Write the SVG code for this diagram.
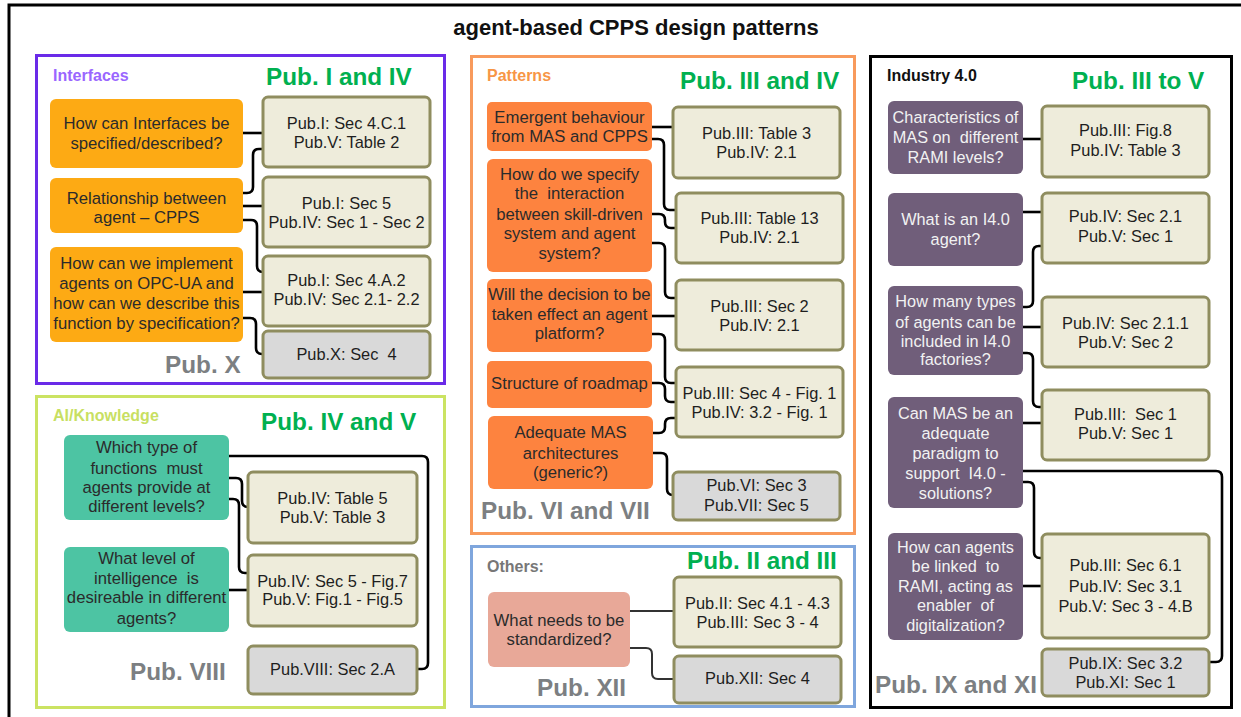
<svg xmlns="http://www.w3.org/2000/svg" width="1241" height="717" viewBox="0 0 1241 717">
  <style>
    text { font-family: "Liberation Sans", Arial, sans-serif; white-space: pre; }
    .title { font-size: 22px; font-weight: bold; fill: #111; }
    .cat { font-size: 16px; font-weight: bold; }
    .pubg { font-size: 24.3px; font-weight: bold; fill: #00b050; }
    .pubx { font-size: 24.3px; font-weight: bold; fill: #7c7f82; }
    .q { font-size: 16.7px; fill: #2b2b2b; text-anchor: middle; }
    .qw { font-size: 16.3px; fill: #f2f2f2; text-anchor: middle; }
    .r { font-size: 16.4px; fill: #1e1e1e; text-anchor: middle; }
    .ref { fill: #eeecdb; stroke: #8f8d5f; stroke-width: 3; }
    .refx { fill: #d9d9d9; stroke: #8f8d5f; stroke-width: 3; }
    .panel { fill: none; stroke-width: 3; }
    .conn path { fill: none; stroke: #000; stroke-width: 2.6; }
    .conn path.thin { stroke: #333; stroke-width: 2; }
  </style>

  <rect width="1241" height="717" fill="#fff"/>
  <!-- outer frame -->
  <rect x="9" y="5" width="1240" height="720" fill="none" stroke="#000" stroke-width="3"/>
  <text class="title" x="636" y="35" text-anchor="middle">agent-based CPPS design patterns</text>

  <!-- panels -->
  <g id="panel-interfaces">
    <rect class="panel" x="36.5" y="55.5" width="408" height="328" stroke="#6a2ae8"/>
    <text class="cat" x="53" y="81" fill="#9a66ff">Interfaces</text>
    <text class="pubg" x="266" y="85">Pub. I and IV</text>
    <text class="pubx" x="165" y="373">Pub. X</text>
  </g>
  <g id="panel-ai">
    <rect class="panel" x="36.5" y="396.5" width="408" height="311" stroke="#cbe362"/>
    <text class="cat" x="53" y="421" fill="#c8df62">AI/Knowledge</text>
    <text class="pubg" x="261" y="430">Pub. IV and V</text>
    <text class="pubx" x="130" y="680">Pub. VIII</text>
  </g>
  <g id="panel-patterns">
    <rect class="panel" x="471.5" y="56.5" width="383" height="477" stroke="#f89a5c"/>
    <text class="cat" x="487" y="81" fill="#f79646">Patterns</text>
    <text class="pubg" x="680" y="89">Pub. III and IV</text>
    <text class="pubx" x="481" y="519">Pub. VI and VII</text>
  </g>
  <g id="panel-others">
    <rect class="panel" x="471.5" y="546.5" width="383" height="160" stroke="#7fa6dd"/>
    <text class="cat" x="487" y="572" fill="#777">Others:</text>
    <text class="pubg" x="687" y="569">Pub. II and III</text>
    <text class="pubx" x="537" y="696">Pub. XII</text>
  </g>
  <g id="panel-industry">
    <rect class="panel" x="870.5" y="56.5" width="361" height="651" stroke="#000"/>
    <text class="cat" x="887" y="81" fill="#111">Industry 4.0</text>
    <text class="pubg" x="1072" y="89">Pub. III to V</text>
    <text class="pubx" x="875" y="693">Pub. IX and XI</text>
  </g>

  <!-- connectors -->
  <g id="connectors" class="conn">
    <!-- Interfaces -->
    <path d="M243 133 H263"/>
    <path d="M243 193 H247 Q253 193 253 187 V155 Q253 149 259 149 H263"/>
    <path d="M243 206 H263"/>
    <path d="M243 220 H251 Q257 220 257 226 V266 Q257 272 263 272"/>
    <path d="M243 292 H263"/>
    <path d="M243 318 H250 Q256 318 256 324 V348 Q256 354 262 354 H263"/>
    <!-- AI/Knowledge -->
    <path d="M229 456 H422 Q428 456 428 462 V663 Q428 669 422 669 H417"/>
    <path d="M229 478 H236 Q242 478 242 484 V501 Q242 507 248 507"/>
    <path d="M229 499 H233 Q239 499 239 505 V567 Q239 573 245 573 H248"/>
    <path d="M229 590 H248"/>
    <!-- Patterns -->
    <path d="M652 127 H673"/>
    <path d="M652 139 H658 Q664 139 664 145 V204 Q664 210 670 210 H676"/>
    <path d="M652 214 H659 Q665 214 665 220 V222 Q665 228 671 228 H676"/>
    <path d="M652 243 H659 Q665 243 665 249 V292 Q665 298 671 298 H676"/>
    <path d="M652 316 H676"/>
    <path d="M652 334 H659 Q665 334 665 340 V377 Q665 383 671 383 H676"/>
    <path d="M652 383 H659 Q665 383 665 389 V396 Q665 402 671 402 H676"/>
    <path d="M653 433 H659 Q665 433 665 427 V424 Q665 418 671 418 H676"/>
    <path d="M653 453 H661 Q667 453 667 459 V489 Q667 495 673 495"/>
    <!-- Others -->
    <path class="thin" d="M630 611 H674"/>
    <path class="thin" d="M630 648 H646 Q652 648 652 654 V673 Q652 679 658 679 H674"/>
    <!-- Industry 4.0 -->
    <path d="M1023 139 H1042"/>
    <path d="M1023 212 H1042"/>
    <path d="M1023 307 H1027 Q1033 307 1033 301 V252 Q1033 246 1039 246 H1042"/>
    <path d="M1023 327 H1042"/>
    <path d="M1023 353 H1027 Q1033 353 1033 359 V401 Q1033 407 1039 407 H1042"/>
    <path d="M1023 423 H1042"/>
    <path d="M1023 471 H1216 Q1222 471 1222 477 V656 Q1222 662 1216 662 H1209"/>
    <path d="M1023 482 H1028 Q1034 482 1034 488 V552 Q1034 558 1040 558 H1042"/>
    <path d="M1023 586 H1042"/>
  </g>

  <!-- Interfaces: questions -->
  <g id="if-q1"><rect x="50" y="99" width="193" height="69" rx="6" fill="#fdaa14"/>
    <text class="q"><tspan x="146.5" y="129">How can Interfaces be</tspan><tspan x="146.5" y="149">specified/described?</tspan></text></g>
  <g id="if-q2"><rect x="50" y="178" width="193" height="55" rx="6" fill="#fdaa14"/>
    <text class="q"><tspan x="146.5" y="204">Relationship between</tspan><tspan x="146.5" y="223">agent – CPPS</tspan></text></g>
  <g id="if-q3"><rect x="50" y="247" width="193" height="95" rx="6" fill="#fdaa14"/>
    <text class="q"><tspan x="146.5" y="269">How can we implement</tspan><tspan x="146.5" y="289">agents on OPC-UA and</tspan><tspan x="146.5" y="309">how can we describe this</tspan><tspan x="146.5" y="329">function by specification?</tspan></text></g>
  <!-- Interfaces: references -->
  <g id="if-r1"><rect class="ref" x="263" y="97" width="167" height="70" rx="5"/>
    <text class="r"><tspan x="346.5" y="129">Pub.I: Sec 4.C.1</tspan><tspan x="346.5" y="148">Pub.V: Table 2</tspan></text></g>
  <g id="if-r2"><rect class="ref" x="263" y="177" width="167" height="70" rx="5"/>
    <text class="r"><tspan x="346.5" y="209">Pub.I: Sec 5</tspan><tspan x="346.5" y="228">Pub.IV: Sec 1 - Sec 2</tspan></text></g>
  <g id="if-r3"><rect class="ref" x="263" y="256" width="167" height="70" rx="5"/>
    <text class="r"><tspan x="346.5" y="286">Pub.I: Sec 4.A.2</tspan><tspan x="346.5" y="305">Pub.IV: Sec 2.1- 2.2</tspan></text></g>
  <g id="if-r4"><rect class="refx" x="263" y="331" width="167" height="47" rx="5"/>
    <text class="r" x="346.5" y="360">Pub.X: Sec  4</text></g>

  <!-- AI/Knowledge: questions -->
  <g id="ai-q1"><rect x="64" y="435" width="165" height="85" rx="6" fill="#4dc4a3"/>
    <text class="q"><tspan x="146.5" y="453">Which type of</tspan><tspan x="146.5" y="474">functions  must</tspan><tspan x="146.5" y="493">agents provide at</tspan><tspan x="146.5" y="512">different levels?</tspan></text></g>
  <g id="ai-q2"><rect x="64" y="547" width="165" height="85" rx="6" fill="#4dc4a3"/>
    <text class="q"><tspan x="146.5" y="564">What level of</tspan><tspan x="146.5" y="584">intelligence  is</tspan><tspan x="146.5" y="603">desireable in different</tspan><tspan x="146.5" y="624">agents?</tspan></text></g>
  <!-- AI/Knowledge: references -->
  <g id="ai-r1"><rect class="ref" x="248" y="472" width="169" height="71" rx="5"/>
    <text class="r"><tspan x="332.5" y="504">Pub.IV: Table 5</tspan><tspan x="332.5" y="523">Pub.V: Table 3</tspan></text></g>
  <g id="ai-r2"><rect class="ref" x="248" y="555" width="169" height="71" rx="5"/>
    <text class="r"><tspan x="332.5" y="587">Pub.IV: Sec 5 - Fig.7</tspan><tspan x="332.5" y="605">Pub.V: Fig.1 - Fig.5</tspan></text></g>
  <g id="ai-r3"><rect class="refx" x="248" y="646" width="169" height="48" rx="5"/>
    <text class="r" x="332.5" y="675">Pub.VIII: Sec 2.A</text></g>

  <!-- Patterns: questions -->
  <g id="pt-q1"><rect x="487" y="102" width="165" height="49" rx="5" fill="#fd833f"/>
    <text class="q"><tspan x="569.5" y="123">Emergent behaviour</tspan><tspan x="569.5" y="142">from MAS and CPPS</tspan></text></g>
  <g id="pt-q2"><rect x="487" y="159" width="165" height="113" rx="6" fill="#fd833f"/>
    <text class="q"><tspan x="569.5" y="180">How do we specify</tspan><tspan x="569.5" y="199">the  interaction</tspan><tspan x="569.5" y="220">between skill-driven</tspan><tspan x="569.5" y="239">system and agent</tspan><tspan x="569.5" y="259">system?</tspan></text></g>
  <g id="pt-q3"><rect x="487" y="279" width="165" height="73" rx="6" fill="#fd833f"/>
    <text class="q"><tspan x="569.5" y="300">Will the decision to be</tspan><tspan x="569.5" y="320">taken effect an agent</tspan><tspan x="569.5" y="339">platform?</tspan></text></g>
  <g id="pt-q4"><rect x="487" y="361" width="165" height="47" rx="5" fill="#fd833f"/>
    <text class="q" x="569.5" y="389">Structure of roadmap</text></g>
  <g id="pt-q5"><rect x="488" y="416" width="165" height="73" rx="6" fill="#fd833f"/>
    <text class="q"><tspan x="570.5" y="438">Adequate MAS</tspan><tspan x="570.5" y="459">architectures</tspan><tspan x="570.5" y="478">(generic?)</tspan></text></g>
  <!-- Patterns: references -->
  <g id="pt-r1"><rect class="ref" x="673" y="107" width="167" height="71" rx="5"/>
    <text class="r"><tspan x="756.5" y="139">Pub.III: Table 3</tspan><tspan x="756.5" y="158">Pub.IV: 2.1</tspan></text></g>
  <g id="pt-r2"><rect class="ref" x="676" y="193" width="167" height="70" rx="5"/>
    <text class="r"><tspan x="759.5" y="224">Pub.III: Table 13</tspan><tspan x="759.5" y="243">Pub.IV: 2.1</tspan></text></g>
  <g id="pt-r3"><rect class="ref" x="676" y="280" width="167" height="70" rx="5"/>
    <text class="r"><tspan x="759.5" y="312">Pub.III: Sec 2</tspan><tspan x="759.5" y="331">Pub.IV: 2.1</tspan></text></g>
  <g id="pt-r4"><rect class="ref" x="676" y="367" width="167" height="70" rx="5"/>
    <text class="r"><tspan x="759.5" y="399">Pub.III: Sec 4 - Fig. 1</tspan><tspan x="759.5" y="418">Pub.IV: 3.2 - Fig. 1</tspan></text></g>
  <g id="pt-r5"><rect class="refx" x="673" y="472" width="167" height="48" rx="5"/>
    <text class="r"><tspan x="756.5" y="491">Pub.VI: Sec 3</tspan><tspan x="756.5" y="511">Pub.VII: Sec 5</tspan></text></g>

  <!-- Others -->
  <g id="ot-q1"><rect x="488" y="592" width="142" height="75" rx="6" fill="#e8a898"/>
    <text class="q"><tspan x="559" y="626">What needs to be</tspan><tspan x="559" y="645">standardized?</tspan></text></g>
  <g id="ot-r1"><rect class="ref" x="674" y="577" width="167" height="70" rx="5"/>
    <text class="r"><tspan x="757.5" y="609">Pub.II: Sec 4.1 - 4.3</tspan><tspan x="757.5" y="628">Pub.III: Sec 3 - 4</tspan></text></g>
  <g id="ot-r2"><rect class="refx" x="674" y="656" width="167" height="47" rx="5"/>
    <text class="r" x="757.5" y="684">Pub.XII: Sec 4</text></g>

  <!-- Industry 4.0: questions -->
  <g id="in-q1"><rect x="888" y="101" width="135" height="73" rx="6" fill="#705e7a"/>
    <text class="qw"><tspan x="955.5" y="123">Characteristics of</tspan><tspan x="955.5" y="143">MAS on  different</tspan><tspan x="955.5" y="163">RAMI levels?</tspan></text></g>
  <g id="in-q2"><rect x="888" y="193" width="135" height="73" rx="6" fill="#705e7a"/>
    <text class="qw"><tspan x="955.5" y="225">What is an I4.0</tspan><tspan x="955.5" y="245">agent?</tspan></text></g>
  <g id="in-q3"><rect x="888" y="286" width="135" height="89" rx="6" fill="#705e7a"/>
    <text class="qw"><tspan x="955.5" y="307">How many types</tspan><tspan x="955.5" y="328">of agents can be</tspan><tspan x="955.5" y="347">included in I4.0</tspan><tspan x="955.5" y="365">factories?</tspan></text></g>
  <g id="in-q4"><rect x="888" y="397" width="135" height="111" rx="6" fill="#705e7a"/>
    <text class="qw"><tspan x="955.5" y="419">Can MAS be an</tspan><tspan x="955.5" y="439">adequate</tspan><tspan x="955.5" y="459">paradigm to</tspan><tspan x="955.5" y="479">support  I4.0 -</tspan><tspan x="955.5" y="499">solutions?</tspan></text></g>
  <g id="in-q5"><rect x="888" y="533" width="135" height="107" rx="6" fill="#705e7a"/>
    <text class="qw"><tspan x="955.5" y="553">How can agents</tspan><tspan x="955.5" y="572">be linked  to</tspan><tspan x="955.5" y="592">RAMI, acting as</tspan><tspan x="955.5" y="611">enabler  of</tspan><tspan x="955.5" y="631">digitalization?</tspan></text></g>
  <!-- Industry 4.0: references -->
  <g id="in-r1"><rect class="ref" x="1042" y="106" width="167" height="71" rx="5"/>
    <text class="r"><tspan x="1125.5" y="136">Pub.III: Fig.8</tspan><tspan x="1125.5" y="156">Pub.IV: Table 3</tspan></text></g>
  <g id="in-r2"><rect class="ref" x="1042" y="193" width="167" height="70" rx="5"/>
    <text class="r"><tspan x="1125.5" y="222">Pub.IV: Sec 2.1</tspan><tspan x="1125.5" y="242">Pub.V: Sec 1</tspan></text></g>
  <g id="in-r3"><rect class="ref" x="1042" y="297" width="167" height="70" rx="5"/>
    <text class="r"><tspan x="1125.5" y="329">Pub.IV: Sec 2.1.1</tspan><tspan x="1125.5" y="348">Pub.V: Sec 2</tspan></text></g>
  <g id="in-r4"><rect class="ref" x="1042" y="390" width="167" height="70" rx="5"/>
    <text class="r"><tspan x="1125.5" y="420">Pub.III:  Sec 1</tspan><tspan x="1125.5" y="439">Pub.V: Sec 1</tspan></text></g>
  <g id="in-r5"><rect class="ref" x="1042" y="534" width="167" height="104" rx="5"/>
    <text class="r"><tspan x="1125.5" y="571">Pub.III: Sec 6.1</tspan><tspan x="1125.5" y="592">Pub.IV: Sec 3.1</tspan><tspan x="1125.5" y="612">Pub.V: Sec 3 - 4.B</tspan></text></g>
  <g id="in-r6"><rect class="refx" x="1042" y="649" width="167" height="47" rx="5"/>
    <text class="r"><tspan x="1125.5" y="669">Pub.IX: Sec 3.2</tspan><tspan x="1125.5" y="688">Pub.XI: Sec 1</tspan></text></g>
</svg>
